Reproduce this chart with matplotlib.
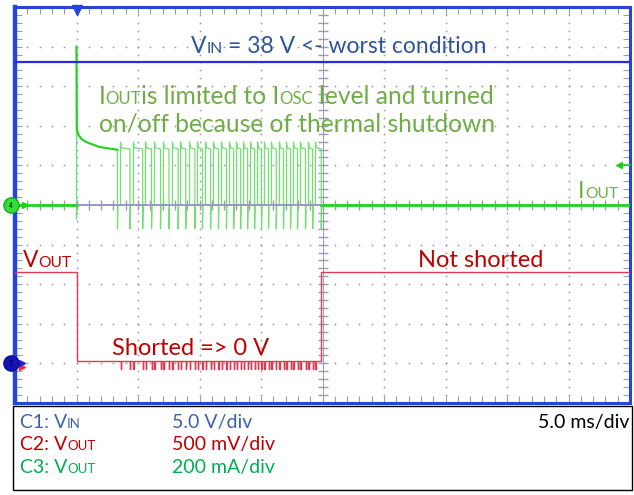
import numpy as np
import matplotlib
matplotlib.use("Agg")
import matplotlib.pyplot as plt
from matplotlib.patches import Rectangle

plt.rcParams['font.family'] = ['Lato', 'DejaVu Sans']

# channel setup (scale per division, ground position in divisions)
VIN_V_PER_DIV = 5.0
VOUT_V_PER_DIV = 0.5
IOUT_MA_PER_DIV = 200.0
VIN_GND_DIV = -4.0
VOUT_GND_DIV = -4.0
IOUT_GND_DIV = 0.0

# input voltage
vin_level_v = 38.0

# output voltage levels
vout_high_v = 1.15
vout_short_v = 0.025
vout_dip_v = -0.07
t_short_start_ms = 0.0
t_short_end_ms = 19.9

# output current: inrush spike and decay before the first thermal shutdown
spike_ma = 800.0
decay_t_ms = [0.02, 0.16, 0.41, 0.79, 1.87, 3.33]
decay_ma = [384, 354, 333, 318, 293, 279]
inrush_dip_ma = -70.0

# thermal shutdown cycling: on / off edges of each current pulse
pulse_on_ms = [3.58, 4.63, 5.61, 6.34, 7.07, 7.80, 8.46, 9.19, 9.84, 10.49,
               11.14, 11.79, 12.44, 13.01, 13.58, 14.15, 14.72, 15.28, 15.85,
               16.50, 17.07, 17.64, 18.21, 18.86, 19.43]
pulse_off_ms = [4.35, 5.38, 6.10, 6.83, 7.52, 8.26, 8.88, 9.62, 10.24, 10.90,
                11.54, 12.19, 12.78, 13.34, 13.91, 14.48, 15.04, 15.61, 16.24,
                16.83, 17.40, 17.97, 18.62, 19.20, 19.90]
pulse_peak_ma = 318.0
pulse_hold_ma = 283.0
pulse_under_ma = -120.0

T0, T1 = -5.0, 45.0

# ---- build traces -------------------------------------------------------
vin_t = [T0, T1]
vin_v = [vin_level_v, vin_level_v]

vout_t = [T0, t_short_start_ms, t_short_start_ms, decay_t_ms[-1]]
vout_v = [vout_high_v, vout_high_v, vout_short_v, vout_short_v]
for on, off in zip(pulse_on_ms, pulse_off_ms):
    for edge in (on, off):
        if edge >= t_short_end_ms:
            continue
        vout_t += [edge, edge, edge + 0.02, edge + 0.02]
        vout_v += [vout_short_v, vout_dip_v, vout_dip_v, vout_short_v]
vout_t += [t_short_end_ms, t_short_end_ms, T1]
vout_v += [vout_short_v, vout_high_v, vout_high_v]

iout_t = [T0, 0.0, 0.0, 0.0]
iout_ma = [0.0, 0.0, inrush_dip_ma, spike_ma]
iout_t += decay_t_ms
iout_ma += decay_ma
iout_t += [decay_t_ms[-1], decay_t_ms[-1] + 0.04]
iout_ma += [pulse_under_ma, 0.0]
for on, off in zip(pulse_on_ms, pulse_off_ms):
    iout_t += [on, on, on + 0.07, off, off, off + 0.04]
    iout_ma += [0.0, pulse_peak_ma, pulse_hold_ma + 6, pulse_hold_ma,
                pulse_under_ma, 0.0]
iout_t += [T1]
iout_ma += [0.0]


def to_div(values, scale, gnd):
    return np.asarray(values, dtype=float) / scale + gnd


fig = plt.figure(figsize=(6.34, 4.95), dpi=100)
W, H = 634, 495
ax = fig.add_axes([15 / W, (H - 403) / H, 615 / W, 396 / H])
ax.set_xlim(T0, T1)
ax.set_ylim(-5, 5)

# graticule: ticks on the frame, dotted grid, ticked centre lines
grid_c = '#9a9ab4'
ax.set_xticks(np.arange(T0, T1 + 0.1, 5))
ax.set_xticks(np.arange(T0, T1 + 0.1, 1), minor=True)
ax.set_yticks(np.arange(-5, 5.1, 1))
ax.set_yticks(np.arange(-5, 5.1, 0.2), minor=True)
ax.tick_params(which='both', direction='in', length=5, width=0.8,
               color=grid_c, top=True, right=True,
               labelbottom=False, labelleft=False)
for s in ax.spines.values():
    s.set_color('#2346d8')
    s.set_linewidth(2.2)
ax.spines['left'].set_linewidth(3.2)

xmin = np.arange(T0, T1 + 0.1, 1)
ymin = np.arange(-5, 5.1, 0.2)
for xm in np.arange(T0 + 5, T1, 5):
    ax.plot(np.full_like(ymin, xm), ymin, ls='none', marker='o', ms=1.3,
            color=grid_c, mew=0, zorder=1)
for ym in np.arange(-4, 5, 1):
    ax.plot(xmin, np.full_like(xmin, ym), ls='none', marker='o', ms=1.3,
            color=grid_c, mew=0, zorder=1)
ax.plot(np.full_like(ymin, 20.0), ymin, ls='none', marker='_', ms=7,
        color=grid_c, mew=1, zorder=1)
ax.plot(xmin, np.zeros_like(xmin), ls='none', marker='|', ms=7,
        color=grid_c, mew=1, zorder=1)
ax.axvline(20.0, color=grid_c, lw=0.7, zorder=1)

# traces
ax.plot(vin_t, to_div(vin_v, VIN_V_PER_DIV, VIN_GND_DIV),
        color='#2a2ae6', lw=1.6, zorder=5)
ax.plot(iout_t, to_div(iout_ma, IOUT_MA_PER_DIV, IOUT_GND_DIV),
        color='#70e070', lw=0.9, zorder=3)
ax.plot([T0, t_short_start_ms], [IOUT_GND_DIV] * 2, color='#22d422', lw=2, zorder=4)
ax.plot([t_short_end_ms, T1], [IOUT_GND_DIV] * 2, color='#22d422', lw=2, zorder=4)
ax.plot([t_short_start_ms, t_short_end_ms], [IOUT_GND_DIV] * 2,
        color='#9898c4', lw=1.4, zorder=4)
ax.plot(iout_t[3:10], to_div(iout_ma[3:10], IOUT_MA_PER_DIV, IOUT_GND_DIV),
        color='#22d422', lw=1.5, zorder=4)
ax.plot(vout_t, to_div(vout_v, VOUT_V_PER_DIV, VOUT_GND_DIV),
        color='#e23a55', lw=1.0, zorder=4)

# ground / trigger markers
kw = dict(clip_on=False, zorder=10)
ax.plot([T0 - 0.1, T0 + 0.8], [IOUT_GND_DIV] * 2, color='#22cc22', lw=1.2, **kw)
ax.plot(T0 + 0.8, IOUT_GND_DIV, marker='>', ms=4, color='#22cc22', **kw)
ax.plot(T0 - 0.35, IOUT_GND_DIV, marker='o', ms=11, color='#33dd33', mec='#22aa22', **kw)
ax.text(T0 - 0.35, IOUT_GND_DIV, '4', fontsize=5, ha='center', va='center', zorder=11)
ax.plot([T0 - 0.1, T0 + 0.6], [VOUT_GND_DIV - 0.1] * 2, color='#e83040', lw=1.2, **kw)
ax.plot(T0 + 0.6, VOUT_GND_DIV - 0.1, marker='>', ms=4, color='#e83040', **kw)
ax.plot([T0 - 0.1, T0 + 0.6], [VIN_GND_DIV] * 2, color='#2020d0', lw=1.2, **kw)
ax.plot(T0 + 0.6, VIN_GND_DIV, marker='>', ms=4, color='#2020d0', **kw)
ax.plot(T0 - 0.35, VIN_GND_DIV, marker='o', ms=11, color='#1414b8', mec='#101090', **kw)
ax.text(T0 - 0.35, VIN_GND_DIV, '1', fontsize=5, ha='center', va='center', zorder=11)
ax.plot(0.0, 4.93, marker='v', ms=7, color='#2346d8', **kw)
trig_div = 200.0 / IOUT_MA_PER_DIV + IOUT_GND_DIV
ax.plot([T1 - 0.9, T1], [trig_div] * 2, color='#22cc22', lw=1.2, **kw)
ax.plot(T1 - 0.9, trig_div, marker='<', ms=4, color='#22cc22', **kw)

# ---- annotation layer in pixel units -------------------------------------
ov = fig.add_axes([0, 0, 1, 1], zorder=20)
ov.set_xlim(0, W)
ov.set_ylim(H, 0)
ov.axis('off')
ov.patch.set_alpha(0)
ren = fig.canvas.get_renderer()


def _width(s, size):
    t = ov.text(0, 0, s, fontsize=size)
    w = t.get_window_extent(ren).width
    t.remove()
    return w


def advance(s, size):
    return _width('|' + s + '|', size) - _width('||', size)


def runs_text(x, y, runs, color, ha='left'):
    total = sum(advance(s, sz) for s, sz in runs)
    if ha == 'center':
        x -= total / 2
    elif ha == 'right':
        x -= total
    for s, sz in runs:
        lead = len(s) - len(s.lstrip(' '))
        ov.text(x + (advance(' ' * lead, sz) if lead else 0), y, s.strip(' '),
                fontsize=sz, color=color, va='baseline', ha='left')
        x += advance(s, sz)


BIG = 16.5
SMALL = BIG * 0.68
GRN = 17.7
GRN_S = GRN * 0.68
RED = 17.0
blue_t, green_t, red_t = '#2f5597', '#70ad47', '#c00000'

runs_text(339, 53, [('V', BIG), ('IN', SMALL), (' = 38 V <- worst condition', BIG)],
          blue_t, ha='center')
runs_text(296, 104, [('I', GRN), ('OUT', GRN_S), ('is limited to I', GRN),
                     ('OSC', GRN_S), (' level and turned', GRN)], green_t, ha='center')
runs_text(297, 132, [('on/off because of thermal shutdown', GRN)], green_t, ha='center')
runs_text(618, 198, [('I', BIG), ('OUT', SMALL)], green_t, ha='right')
runs_text(23, 267, [('V', BIG), ('OUT', SMALL)], red_t)
runs_text(481, 267, [('Not shorted', RED)], red_t, ha='center')
runs_text(112, 355, [('Shorted => 0 V', RED)], red_t)

# channel settings box
ov.add_patch(Rectangle((13, 406), 619, 84, fill=False, ec='black', lw=1.0))
LEG = 14
LEG_S = LEG * 0.68
rows = [('C1: V', 'IN', '5.0 V/div', '#3b62a8', 428),
        ('C2: V', 'OUT', '500 mV/div', '#c00000', 450),
        ('C3: V', 'OUT', '200 mA/div', '#00b050', 473)]
for head, sub, scale, col, yb in rows:
    runs_text(20, yb, [(head, LEG), (sub, LEG_S)], col)
    runs_text(172, yb, [(scale, LEG)], col)
runs_text(629, 428, [('5.0 ms/div', LEG)], 'black', ha='right')

fig.savefig('out.png', dpi=100)
